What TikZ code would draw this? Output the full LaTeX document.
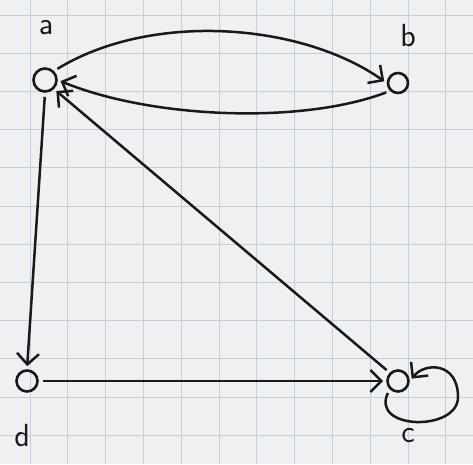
\documentclass[tikz,border=0pt]{standalone}
\usetikzlibrary{arrows.meta}
\begin{document}
\begin{tikzpicture}[x=1pt,y=-1pt,
  vert/.style={circle,draw=ink,line width=2.6pt,minimum size=21pt,inner sep=0pt},
  lbl/.style={text=ink,font=\sffamily\fontsize{32}{32}\selectfont},
  edge/.style={draw=ink,line width=2.5pt,shorten >=3pt,shorten <=4pt,-{Straight Barb[length=11pt,width=22pt,line width=2.5pt]}},
  gridline/.style={draw=gridc,line width=0.9pt}]
\definecolor{ink}{RGB}{25,25,28}
\definecolor{paper}{RGB}{238,240,242}
\definecolor{gridc}{RGB}{200,206,216}
\useasboundingbox (0,0) rectangle (473,464);
\fill[paper] (0,0) rectangle (473,464);
\foreach \i in {0,...,11} {\draw[gridline] ({30+37.8*\i},0) -- ({30+37.8*\i},464);}
\foreach \j in {0,...,11} {\draw[gridline] (0,{15+38.2*\j}) -- (473,{15+38.2*\j});}
\node[vert,minimum size=23pt] (a) at (45,80) {};
\node[vert,minimum size=20pt] (b) at (398,83) {};
\node[vert] (c) at (398,381) {};
\node[vert] (d) at (27,381) {};
\node[lbl] (la) at (46,28) {a};
\node[lbl] (lb) at (408,36) {b};
\node[lbl] (lc) at (408,436) {c};
\node[lbl] (ld) at (22,436) {d};
\draw[edge] (a.north east) .. controls (150,12) and (300,22) .. (b.west);
\draw[edge] (b.south west) .. controls (300,125) and (150,118) .. (a.east);
\draw[edge] (a.south) -- (d.north);
\draw[edge] (c.north west) -- (a.south east);
\draw[edge] (d.east) -- (c.west);
\coordinate (lp) at (c.south west);
\draw[edge] (lp) .. controls (370,430) and (458,432) .. (458,397) .. controls (458,362) and (425,362) .. (c.east);
\end{tikzpicture}
\end{document}
